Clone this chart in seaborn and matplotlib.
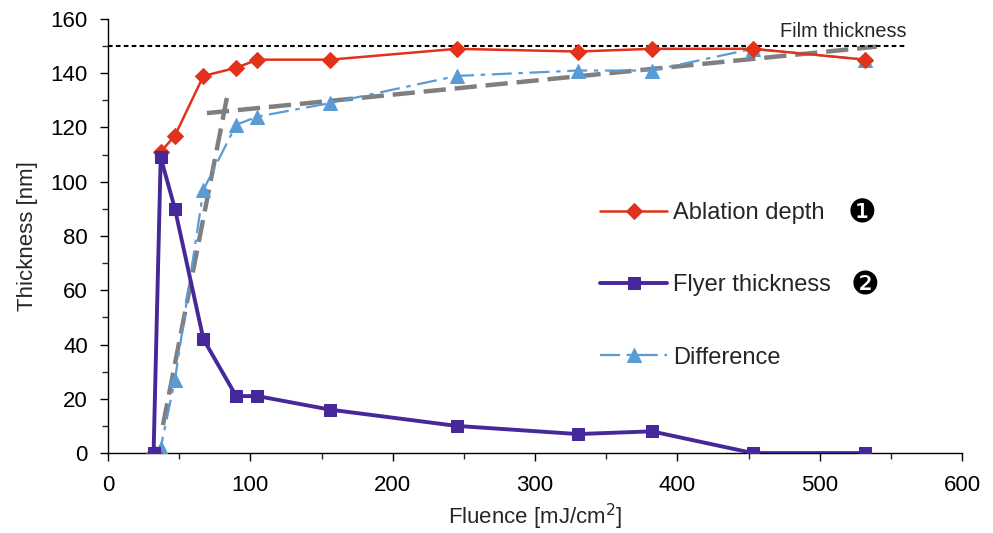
import matplotlib
matplotlib.use("Agg")
import matplotlib.pyplot as plt
import pandas as pd
import seaborn as sns
from matplotlib.ticker import MultipleLocator

# values
fluence = [32, 37, 47, 67, 90, 105, 156, 245, 330, 382, 453, 532]
ablation_depth = [0, 111, 117, 139, 142, 145, 145, 149, 148, 149, 149, 145]
flyer_thickness = [0, 109, 90, 42, 21, 21, 16, 10, 7, 8, 0, 0]
difference = [0, 2, 27, 97, 121, 124, 129, 139, 141, 141, 149, 145]

# hand-drawn trend lines (gray dashed)
fit_steep_x = [38.6, 83.6]
fit_steep_y = [10.3, 131.2]
fit_flat_x = [69.5, 540]
fit_flat_y = [125.3, 149.8]

film_x = [0, 561]
film_y = [150, 150]

df = pd.DataFrame({
    "fluence": fluence,
    "Ablation depth": ablation_depth,
    "Flyer thickness": flyer_thickness,
    "Difference": difference,
})

sns.set_theme(style="ticks")
plt.rcParams["font.family"] = ["Liberation Sans", "DejaVu Sans"]

fig = plt.figure(figsize=(9.93, 5.33), dpi=100)
ax = fig.add_axes([0.1088, 0.150, 0.860, 0.8144])

# trend lines and film thickness first, series on top
ax.plot(fit_steep_x, fit_steep_y, color="#7f7f7f", lw=3.2, linestyle=(0, (5, 2)), zorder=2)
ax.plot(fit_flat_x, fit_flat_y, color="#7f7f7f", lw=3.2, linestyle=(0, (5, 2)), zorder=2)
ax.plot(film_x, film_y, color="black", lw=1.5, linestyle=(0, (2.2, 1.6)), zorder=2)

sns.lineplot(data=df, x="fluence", y="Difference", ax=ax, color="#5b9bd5", lw=1.6,
             linestyle=(0, (9, 3, 2, 3)), marker="^", markersize=10, markeredgecolor="#5b9bd5",
             label="Difference", zorder=3)
sns.lineplot(data=df, x="fluence", y="Ablation depth", ax=ax, color="#e2321a", lw=1.8,
             marker="D", markersize=8.5, markeredgecolor="#e2321a", label="Ablation depth", zorder=4)
sns.lineplot(data=df, x="fluence", y="Flyer thickness", ax=ax, color="#46289b", lw=2.8,
             marker="s", markersize=8.5, markeredgecolor="#46289b", label="Flyer thickness", zorder=5)

ax.set_xlim(0, 600)
ax.set_ylim(0, 160)
ax.xaxis.set_major_locator(MultipleLocator(100))
ax.xaxis.set_minor_locator(MultipleLocator(50))
ax.yaxis.set_major_locator(MultipleLocator(20))
ax.yaxis.set_minor_locator(MultipleLocator(10))
ax.tick_params(which="major", direction="out", length=5.5, width=1, labelsize=16, colors="black")
ax.tick_params(which="minor", direction="out", length=4, width=1)
ax.tick_params(axis="x", which="major", pad=10)
ax.tick_params(axis="y", which="major", pad=9)
sns.despine(ax=ax)
for side in ("left", "bottom"):
    ax.spines[side].set_color("black")
    ax.spines[side].set_linewidth(1)

ax.set_xlabel("Fluence [mJ/cm$^2$]", fontsize=16, labelpad=4.5)
ax.set_ylabel("Thickness [nm]", fontsize=16, labelpad=9)

ax.text(561, 152, "Film thickness", ha="right", va="bottom", fontsize=14.3)

handles, labels = ax.get_legend_handles_labels()
order = [labels.index(n) for n in ("Ablation depth", "Flyer thickness", "Difference")]
ax.legend([handles[i] for i in order], [labels[i] for i in order],
          loc="upper left", bbox_to_anchor=(0.576, 0.578), frameon=False,
          fontsize=17, handlelength=2.85, handletextpad=0.25, labelspacing=2.13,
          borderpad=0, borderaxespad=0)

ax.text(530, 88, "\u2776", ha="center", va="center", fontsize=23, color="black")
ax.text(532, 61.5, "\u2777", ha="center", va="center", fontsize=23, color="black")

fig.savefig("out.png", dpi=100)
plt.close(fig)
